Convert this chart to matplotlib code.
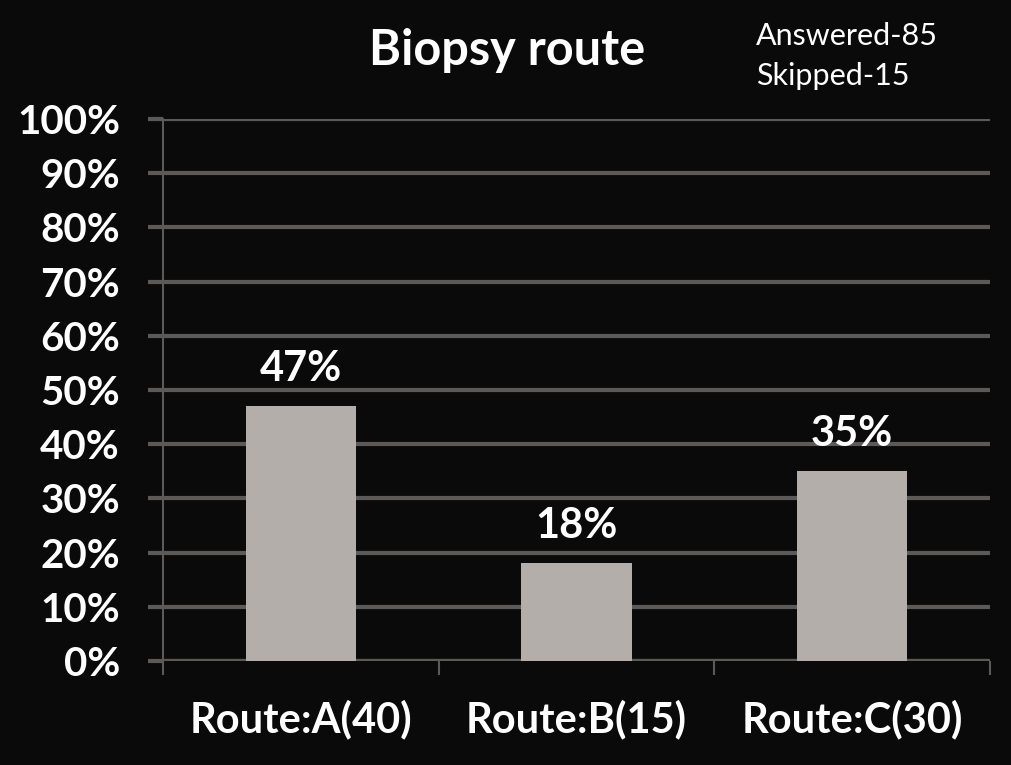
import numpy as np
import matplotlib
matplotlib.use('Agg')
import matplotlib.pyplot as plt
from matplotlib.ticker import FixedLocator, PercentFormatter

categories = ['Route:A(40)', 'Route:B(15)', 'Route:C(30)']
percents = [47, 18, 35]
y_ticks = list(range(0, 101, 10))
title = 'Biopsy route'
note = 'Answered-85\nSkipped-15'

bg = '#0a0a0a'
bar_col = '#b3aea9'
grid_col = '#5c5a58'

plt.rcParams['font.family'] = ['Lato', 'DejaVu Sans']

fig = plt.figure(figsize=(10.11, 7.65), dpi=100, facecolor=bg)
ax = fig.add_axes([0.1612, 0.136, 0.8180, 0.7084], facecolor=bg)

x = np.arange(len(categories))
bars = ax.bar(x, percents, width=0.40, color=bar_col, zorder=3)

ax.set_xlim(-0.5, len(categories) - 0.5)
ax.set_ylim(0, 100)
ax.set_yticks(y_ticks)
ax.yaxis.set_major_formatter(PercentFormatter(decimals=0))
ax.yaxis.grid(True, color=grid_col, linewidth=3, zorder=0)

for s in ['top', 'right', 'bottom']:
    ax.spines[s].set_visible(False)
ax.spines['left'].set_color(grid_col)
ax.spines['left'].set_linewidth(1.5)
ax.axhline(0, color=grid_col, linewidth=3, zorder=1)

ax.tick_params(axis='y', colors=grid_col, length=11, width=3, pad=20,
               labelcolor='white', labelsize=29)
for lbl in ax.get_yticklabels():
    lbl.set_fontweight('bold')

ax.set_xticks(x)
ax.set_xticklabels(categories, color='white', fontsize=30, fontweight='bold')
ax.tick_params(axis='x', which='major', length=0, pad=28)
ax.xaxis.set_minor_locator(FixedLocator(np.arange(-0.5, len(categories), 1.0)))
ax.tick_params(axis='x', which='minor', length=10, width=1.5, color=grid_col)

for b, v in zip(bars, percents):
    ax.annotate(f'{v}%', (b.get_x() + b.get_width() / 2, v),
                xytext=(0, 13), textcoords='offset points',
                ha='center', va='bottom', color='white',
                fontsize=30, fontweight='bold')

fig.text(0.502, 0.934, title, ha='center', va='center', color='white',
         fontsize=35, fontweight='bold')
fig.text(0.748, 0.927, note, ha='left', va='center', color='white',
         fontsize=22, linespacing=1.5)

fig.savefig('out.png', dpi=100, facecolor=bg)
